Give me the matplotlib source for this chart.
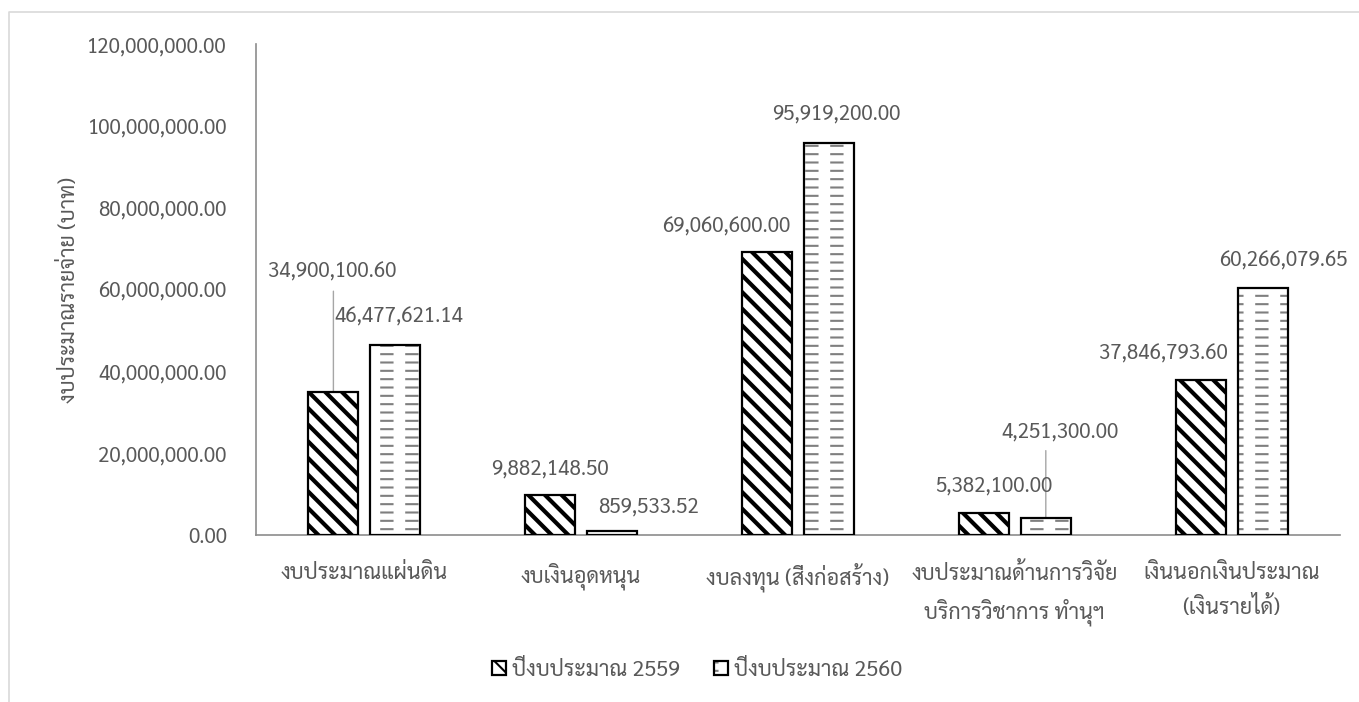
import numpy as np
import matplotlib
matplotlib.use('Agg')
import matplotlib.pyplot as plt
from matplotlib import hatch
from matplotlib.path import Path
from matplotlib.lines import Line2D
from matplotlib.ticker import FuncFormatter

categories = ['งบประมาณแผ่นดิน', 'งบเงินอุดหนุน', 'งบลงทุน (สิ่งก่อสร้าง)',
              'งบประมาณด้านการวิจัย\nบริการวิชาการ ทำนุฯ', 'เงินนอกเงินประมาณ\n(เงินรายได้)']
series_names = ['ปีงบประมาณ 2559', 'ปีงบประมาณ 2560']
values_2559 = [34900100.60, 9882148.50, 69060600.00, 5382100.00, 37846793.60]
values_2560 = [46477621.14, 859533.52, 95919200.00, 4251300.00, 60266079.65]
y_ticks = [0, 20e6, 40e6, 60e6, 80e6, 100e6, 120e6]

plt.rcParams['font.family'] = ['Sarabun', 'DejaVu Sans']
FS = 15.5      # thai text
NUM_FS = 14.8  # numbers


# dashed horizontal hatch (replaces the plain '-' hatch)
class DashedHorizontalHatch(hatch.HatchPatternBase):
    def __init__(self, hatchpattern, density):
        self.num_lines = int((hatchpattern.count('-') + hatchpattern.count('+')) * density)
        self.dashes = 4
        self.num_vertices = self.num_lines * self.dashes * 2

    def set_vertices_and_codes(self, vertices, codes):
        steps, stepsize = np.linspace(0.0, 1.0, self.num_lines, False, retstep=True)
        steps += stepsize / 2.
        period = 1.0 / self.dashes
        i = 0
        for y in steps:
            for k in range(self.dashes):
                x0 = k * period + period * 0.25
                vertices[i] = (x0, y)
                vertices[i + 1] = (x0 + period * 0.45, y)
                codes[i] = Path.MOVETO
                codes[i + 1] = Path.LINETO
                i += 2

hatch._hatch_types = [DashedHorizontalHatch if t is hatch.HorizontalHatch else t
                      for t in hatch._hatch_types]

W, H = 1359, 702
fig = plt.figure(figsize=(W / 100, H / 100), dpi=100)
ax = fig.add_axes([256 / W, 1 - 535 / H, (1340 - 256) / W, (535 - 44) / H])

x = np.arange(len(categories))
bw = 0.23
off = 0.143
grey_txt = '#595959'

plt.rcParams['hatch.linewidth'] = 3.0
b1 = ax.bar(x - off, values_2559, bw, color='white', edgecolor='black',
            linewidth=1.6, hatch='\\\\', zorder=3)
plt.rcParams['hatch.linewidth'] = 1.5
b2h = ax.bar(x + off, values_2560, bw, color='white', edgecolor='#7f7f7f',
             linewidth=0, hatch='--', zorder=3)
b2 = ax.bar(x + off, values_2560, bw, fill=False, edgecolor='black',
            linewidth=1.6, zorder=4)

ax.set_xlim(-0.5, len(categories) - 0.5)
ax.set_ylim(0, 120e6)
ax.set_yticks(y_ticks)
ax.yaxis.set_major_formatter(FuncFormatter(lambda v, p: '{:,.2f}'.format(v)))
ax.set_xticks(x)
ax.set_xticklabels(categories, linespacing=1.7)
ax.tick_params(axis='y', length=0, pad=21, labelsize=NUM_FS, labelcolor=grey_txt)
ax.tick_params(axis='x', length=0, pad=20, labelsize=FS, labelcolor=grey_txt)
for s in ['top', 'right']:
    ax.spines[s].set_visible(False)
for s in ['left', 'bottom']:
    ax.spines[s].set_color('#8c8c8c')
    ax.spines[s].set_linewidth(1.2)
ax.set_ylabel('งบประมาณรายจ่าย (บาท)', fontsize=FS, color=grey_txt, labelpad=5)

# data labels: offsets in pixels from the top centre of each bar
offs_2559 = [(-1, 120), (0, 26), (-41, 26), (10, 27), (-37, 26)]
offs_2560 = [(3, 28), (36, 25), (7, 29), (14, 86), (21, 27)]
leader = {(0, 0), (1, 3)}
for si, (bars, vals, offs) in enumerate([(b1, values_2559, offs_2559),
                                         (b2, values_2560, offs_2560)]):
    for ci, (r, v, (dx, dy)) in enumerate(zip(bars, vals, offs)):
        xc = r.get_x() + r.get_width() / 2
        ax.annotate('{:,.2f}'.format(v), xy=(xc, v), xytext=(dx * 0.72, dy * 0.72),
                    textcoords='offset points', ha='center', va='center',
                    fontsize=NUM_FS, color=grey_txt, zorder=5)
        if (si, ci) in leader:
            ax.annotate('', xy=(xc, v), xytext=(0, (dy - 19) * 0.72),
                        textcoords='offset points',
                        arrowprops=dict(arrowstyle='-', color='#a6a6a6', lw=1,
                                        shrinkA=0, shrinkB=0), zorder=2)

leg = fig.legend([b1[0], (b2h[0], b2[0])], series_names, loc='center',
                 bbox_to_anchor=(697 / W, 1 - 670 / H), ncol=2, frameon=False,
                 fontsize=FS, handlelength=0.65, handleheight=0.65,
                 handletextpad=0.25, columnspacing=1.6)
for t in leg.get_texts():
    t.set_color(grey_txt)

# chart area border
fig.add_artist(Line2D([9 / W, 9 / W, 1], [0, 1 - 12 / H, 1 - 12 / H],
                      transform=fig.transFigure, color='#d9d9d9', lw=1.2))

fig.savefig('out.png', dpi=100)
